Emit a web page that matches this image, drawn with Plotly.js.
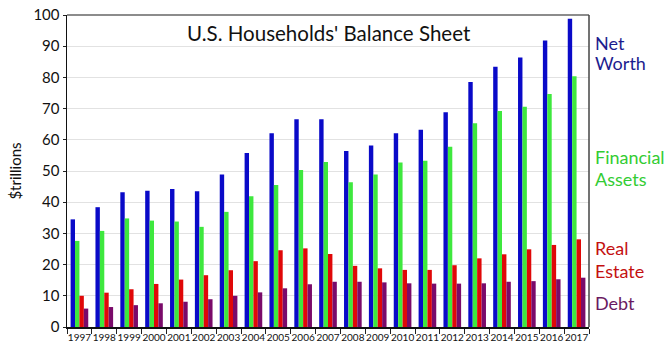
<!DOCTYPE html>
<html>
<head>
<meta charset="utf-8">
<script src="https://cdn.plot.ly/plotly-3.0.1.min.js"></script>
<style>html,body{margin:0;padding:0;background:#fff;}#chart{width:668px;height:354px;}</style>
</head>
<body>
<div id="chart"></div>
<script>
const years = ['1997','1998','1999','2000','2001','2002','2003','2004','2005','2006','2007','2008','2009','2010','2011','2012','2013','2014','2015','2016','2017'];
const netWorth = [34.5,38.4,43.2,43.7,44.2,43.5,48.9,55.8,62.1,66.6,66.6,56.4,58.2,62.1,63.2,68.8,78.5,83.4,86.4,91.8,98.8];
const financialAssets = [27.6,30.8,34.8,34.1,33.8,32.1,36.9,41.9,45.5,50.3,52.9,46.4,48.9,52.7,53.3,57.8,65.3,69.2,70.6,74.7,80.4];
const realEstate = [10.0,11.0,12.1,13.8,15.2,16.6,18.2,21.1,24.6,25.2,23.4,19.6,18.8,18.3,18.3,19.8,22.0,23.3,24.9,26.3,28.1];
const debt = [5.9,6.4,7.0,7.6,8.1,8.9,10.0,11.1,12.4,13.7,14.5,14.5,14.3,14.0,13.9,13.9,14.0,14.5,14.7,15.3,15.8];
const seriesNames = ['Net Worth','Financial Assets','Real Estate','Debt'];
const barColors = ['#0a0ac8','#3ee83e','#e00808','#7a0a6a'];
const labelColors = ['#1c1c8e','#33cc33','#c41010','#6a1a62'];
const labelLines = [['Net','Worth'],['Financial','Assets'],['Real','Estate'],['Debt']];
const labelY = [[43,63],[157,179],[248,271],[303]];

const allSeries = [netWorth, financialAssets, realEstate, debt];
const traces = allSeries.map((vals, i) => ({
  type: 'bar', x: years, y: vals, name: seriesNames[i],
  marker: {color: barColors[i], line: {width: 0}}
}));

const annotations = [];
labelLines.forEach((lines, i) => {
  lines.forEach((t, j) => {
    annotations.push({
      text: t, xref: 'paper', yref: 'paper', x: 1.008, xanchor: 'left',
      y: 1 - (labelY[i][j] - 15) / 312, yanchor: 'middle', showarrow: false,
      font: {family: 'Lato, "Open Sans", sans-serif', size: 18, color: labelColors[i]}
    });
  });
});

const layout = {
  width: 668, height: 354,
  margin: {l: 67, r: 79, t: 15, b: 27, pad: 0},
  paper_bgcolor: '#fff', plot_bgcolor: '#fff',
  barmode: 'group', bargap: 0.29, bargroupgap: 0,
  showlegend: false,
  title: {text: "U.S. Households' Balance Sheet", x: 0.492, xanchor: 'center', y: 0.905, yanchor: 'middle',
    font: {family: 'Lato, "Open Sans", sans-serif', size: 20.5, color: '#111'}},
  xaxis: {
    type: 'category', tickson: 'boundaries', ticks: 'outside', ticklen: 5, tickcolor: '#222',
    showline: true, linecolor: '#111', linewidth: 1.5, showgrid: false, tickangle: 0,
    tickfont: {family: 'Lato, sans-serif', size: 10, color: '#111'}
  },
  yaxis: {
    range: [0, 100], dtick: 10, ticks: 'outside', ticklen: 3, tickcolor: '#222',
    showline: true, linecolor: '#111', linewidth: 1.5,
    showgrid: true, gridcolor: '#e2e2e2', gridwidth: 1, zeroline: false,
    tickfont: {family: 'Lato, sans-serif', size: 15, color: '#111'},
    title: {text: '$trillions', standoff: 8, font: {family: 'Lato, sans-serif', size: 15, color: '#111'}}
  },
  shapes: [
    {type: 'line', xref: 'paper', yref: 'paper', x0: 0, x1: 1, y0: 1, y1: 1, line: {color: '#666', width: 1.5}},
    {type: 'line', xref: 'paper', yref: 'paper', x0: 1, x1: 1, y0: 0, y1: 1, line: {color: '#444', width: 1.5}}
  ],
  annotations: annotations
};

Plotly.newPlot('chart', traces, layout, {staticPlot: true, displayModeBar: false});
</script>
</body>
</html>
